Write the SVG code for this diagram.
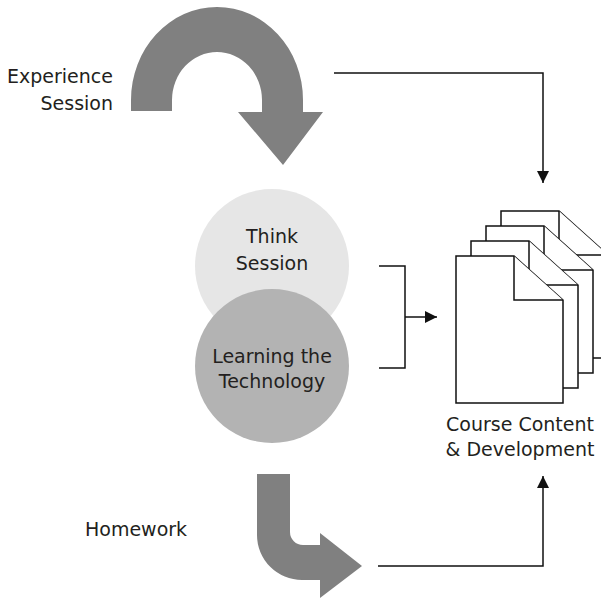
<svg xmlns="http://www.w3.org/2000/svg" width="601" height="598" viewBox="0 0 601 598">
  <style>
    .lbl { font-family: "DejaVu Sans", "Noto Sans", sans-serif; font-size: 19px; fill: #231f20; }
    .mid { text-anchor: middle; }
    .end { text-anchor: end; }
    .flow { fill: #808080; }
    .doc { fill: #ffffff; stroke: #111111; stroke-width: 1.5; stroke-linejoin: miter; }
    .conn { fill: none; stroke: #111111; stroke-width: 1.5; }
  </style>
  <defs>
    <marker id="tip" viewBox="0 0 12 12" markerUnits="userSpaceOnUse" markerWidth="12" markerHeight="12" refX="12" refY="6" orient="auto">
      <path d="M0,0 L12,6 L0,12 Z" fill="#111111"/>
    </marker>
  </defs>

  <rect width="601" height="598" fill="#ffffff"/>

  <!-- Experience session: U-turn arrow -->
  <g id="experience">
    <path class="flow" d="M131,111 V100 A86,93 0 0 1 303,100 V112 H323 L283,165 L238,112 H262 V100 A45,48 0 0 0 172,100 V111 Z"/>
    <text class="lbl end" x="113" y="83">Experience</text>
    <text class="lbl end" x="113" y="110">Session</text>
  </g>

  <!-- Think session circle -->
  <g id="think">
    <circle cx="272" cy="266" r="77" fill="#e6e6e6"/>
    <text class="lbl mid" x="272" y="243">Think</text>
    <text class="lbl mid" x="272" y="270">Session</text>
  </g>

  <!-- Learning the technology circle -->
  <g id="learning">
    <circle cx="272" cy="366" r="77" fill="#b3b3b3"/>
    <text class="lbl mid" x="272" y="363">Learning the</text>
    <text class="lbl mid" x="272" y="388">Technology</text>
  </g>

  <!-- Homework: bent arrow -->
  <g id="homework">
    <path class="flow" d="M257,474 H290 V532 A13,13 0 0 0 303,545 H320 V533 L362,566 L320,598 V580 H302 A45,45 0 0 1 257,535 Z"/>
    <text class="lbl" x="85" y="536">Homework</text>
  </g>

  <!-- Course content: stacked pages -->
  <g id="course">
    <g class="doc">
      <path d="M501,211 H559 L608,255 V358 H501 Z"/>
      <path d="M559,211 V255 H608"/>
      <path d="M486,226 H544 L593,270 V373 H486 Z"/>
      <path d="M544,226 V270 H593"/>
      <path d="M471,241 H529 L578,285 V388 H471 Z"/>
      <path d="M529,241 V285 H578"/>
      <path d="M456,256 H514 L563,300 V403 H456 Z"/>
      <path d="M514,256 V300 H563"/>
    </g>
    <text class="lbl mid" x="520" y="431">Course Content</text>
    <text class="lbl mid" x="520" y="456">&amp; Development</text>
  </g>

  <!-- Connectors -->
  <g id="connectors">
    <path class="conn" d="M334,73 H543 V183" marker-end="url(#tip)"/>
    <path class="conn" d="M379,266 H405 V368 H379"/>
    <path class="conn" d="M405,317 H437" marker-end="url(#tip)"/>
    <path class="conn" d="M378,566 H543 V476" marker-end="url(#tip)"/>
  </g>
</svg>
